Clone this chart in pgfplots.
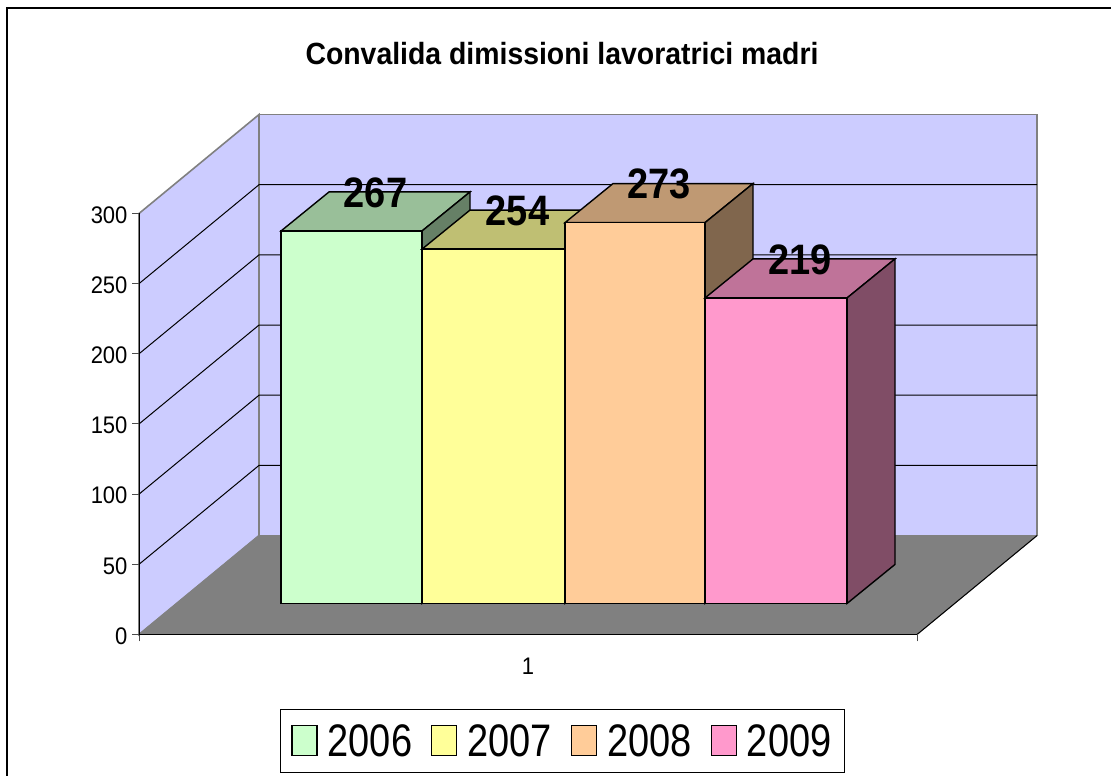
\documentclass[border=0pt]{standalone}
\usepackage{fontspec}
\setmainfont{Liberation Sans}
\usepackage{graphicx}
\usepackage{pgfplots}
\pgfplotsset{compat=1.18}
\definecolor{wall}{HTML}{CCCCFF}
\definecolor{floorc}{HTML}{808080}
\definecolor{fa}{HTML}{CCFFCC}\definecolor{ta}{HTML}{99BF99}\definecolor{sa}{HTML}{668066}
\definecolor{fb}{HTML}{FFFF99}\definecolor{tb}{HTML}{BFBF73}\definecolor{sb}{HTML}{80804D}
\definecolor{fc}{HTML}{FFCC99}\definecolor{tc}{HTML}{BF9973}\definecolor{sc}{HTML}{80664D}
\definecolor{fd}{HTML}{FF99CC}\definecolor{td}{HTML}{BF7399}\definecolor{sd}{HTML}{804D66}
\begin{document}
\begin{tikzpicture}[x=1pt,y=1pt]
\path[use as bounding box] (0,0) rectangle (1111,776);
\draw[black,line width=1.2pt] (7,0) -- (7,768) -- (1111,768);
\node[font=\bfseries\fontsize{28.4}{28.4}\selectfont,anchor=center] at (562,722) {\scalebox{1}[1.08]{Convalida dimissioni lavoratrici madri}};
% walls, floor and value axis: x in pixels, y in value units
\begin{axis}[
  at={(139pt,141.5pt)},anchor=south west,
  scale only axis,width=778pt,height=421pt,
  xmin=139,xmax=917,ymin=0,ymax=300,clip=false,
  axis x line*=bottom,axis y line*=left,
  axis line style={-,black,line width=1pt},
  axis on top,
  /pgf/number format/assume math mode=true,
  ytick={0,50,100,150,200,250,300},
  yticklabel={\scalebox{1}[1.09]{\pgfmathprintnumber{\tick}}},
  xtick={139,917},xticklabels={,},
  extra x ticks={528},extra x tick labels={\scalebox{1}[1.09]{1}},
  extra x tick style={major tick length=0pt,tick style={draw=none}},
  tick style={black!70,line width=1pt},
  major tick length=7pt,
  tick align=outside,
  ticklabel style={font=\fontsize{22}{22}\selectfont},
  yticklabel style={xshift=-1pt,yshift=-1.5pt},
  xticklabel style={yshift=-20pt},
]
\addplot[fill=wall,draw=floorc,line width=1.6pt] coordinates {(139,300)(259,370.5)(259,70.5)(139,0)} -- cycle;
\addplot[fill=wall,draw=floorc,line width=1.6pt] coordinates {(259,370.5)(1037,370.5)(1037,70.5)(259,70.5)} -- cycle;
\addplot[fill=floorc,draw=floorc,line width=1pt] coordinates {(139,0)(259,70.5)(1037,70.5)(917,0)} -- cycle;
\addplot[black,line width=1pt] coordinates {(917,0)(1037,70.5)};
\addplot[black,line width=1pt] coordinates {(139,50)(259,120.5)(1037,120.5)};
\addplot[black,line width=1pt] coordinates {(139,100)(259,170.5)(1037,170.5)};
\addplot[black,line width=1pt] coordinates {(139,150)(259,220.5)(1037,220.5)};
\addplot[black,line width=1pt] coordinates {(139,200)(259,270.5)(1037,270.5)};
\addplot[black,line width=1pt] coordinates {(139,250)(259,320.5)(1037,320.5)};
\end{axis}
% bars: x in pixels, y in value units
\begin{axis}[
  at={(0pt,0pt)},anchor=south west,
  scale only axis,width=1111pt,height=776pt,
  xmin=0,xmax=1111,ymin=-123.66,ymax=432.6,clip=false,hide axis,
  /pgf/number format/assume math mode=true,
  legend columns=4,
  legend cell align=left,
  legend style={at={(0.252,0.0045)},anchor=south west,draw=black,line width=1pt,
    font=\fontsize{38}{38}\selectfont,inner xsep=11pt,inner ysep=12.5pt,
    /tikz/every even column/.append style={column sep=17pt},
    /tikz/every odd column/.append style={column sep=8pt}},
  legend image code/.code={\draw[#1,line width=1.2pt] (0pt,-15pt) rectangle (25pt,15pt);},
]
% 2006
\addplot[fill=ta,draw=black,line width=1.4pt,forget plot] coordinates {(281,267)(422,267)(470,295)(329,295)} -- cycle;
\addplot[fill=sa,draw=black,line width=1.4pt,forget plot] coordinates {(422,0)(470,28)(470,295)(422,267)} -- cycle;
\addplot[ybar,bar width=141pt,bar shift=0pt,fill=fa,draw=black,line width=1.4pt] coordinates {(351.5,267)};
\addlegendentry{\scalebox{1}[1.2]{2006}}
% 2007
\addplot[fill=tb,draw=black,line width=1.4pt,forget plot] coordinates {(422,254)(565,254)(613,282)(470,282)} -- cycle;
\addplot[fill=sb,draw=black,line width=1.4pt,forget plot] coordinates {(565,0)(613,28)(613,282)(565,254)} -- cycle;
\addplot[ybar,bar width=143pt,bar shift=0pt,fill=fb,draw=black,line width=1.4pt] coordinates {(493.5,254)};
\addlegendentry{\scalebox{1}[1.2]{2007}}
% 2008
\addplot[fill=tc,draw=black,line width=1.4pt,forget plot] coordinates {(565,273)(705,273)(753,301)(613,301)} -- cycle;
\addplot[fill=sc,draw=black,line width=1.4pt,forget plot] coordinates {(705,0)(753,28)(753,301)(705,273)} -- cycle;
\addplot[ybar,bar width=140pt,bar shift=0pt,fill=fc,draw=black,line width=1.4pt] coordinates {(635,273)};
\addlegendentry{\scalebox{1}[1.2]{2008}}
% 2009
\addplot[fill=td,draw=black,line width=1.4pt,forget plot] coordinates {(705,219)(847,219)(895,247)(753,247)} -- cycle;
\addplot[fill=sd,draw=black,line width=1.4pt,forget plot] coordinates {(847,0)(895,28)(895,247)(847,219)} -- cycle;
\addplot[ybar,bar width=142pt,bar shift=0pt,fill=fd,draw=black,line width=1.4pt] coordinates {(776,219)};
\addlegendentry{\scalebox{1}[1.2]{2009}}
% data labels
\addplot[draw=none,forget plot,point meta=y,
  nodes near coords={\scalebox{1}[1.12]{\pgfmathprintnumber{\pgfplotspointmeta}}},
  every node near coord/.append style={anchor=center,xshift=24pt,yshift=38.5pt,inner sep=0pt,
    font=\bfseries\fontsize{38}{38}\selectfont,text=black}]
  coordinates {(351.5,267)(493.5,254)(635,273)(776,219)};
\end{axis}
\end{tikzpicture}
\end{document}
